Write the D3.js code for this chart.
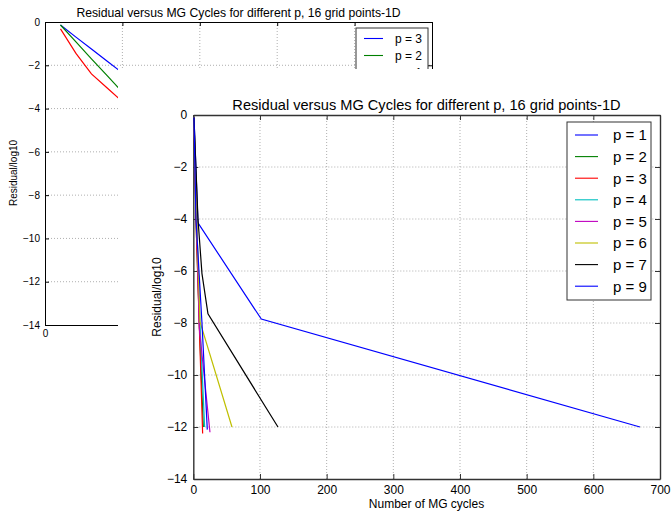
<!DOCTYPE html>
<html>
<head>
<meta charset="utf-8">
<script src="https://cdn.jsdelivr.net/npm/d3@7"></script>
<style>
    body { margin: 0; background: #fff; }
    text { font-family: "Liberation Sans", Arial, sans-serif; fill: #000; }
</style>
</head>
<body>
<script>
// 背后那张小图的数据 (部分被遮住)
const bgCycles = [1, 2, 3, 4, 5];
const bgP3 = [-0.14, -0.70, -1.25, -1.80, -2.35];
const bgP2 = [-0.14, -0.92, -1.70, -2.47, -3.24];
const bgP1 = [-0.32, -1.45, -2.40, -3.04, -3.68];
const bgSeries = [
    { name: 'p = 3', x: bgCycles, y: bgP3, color: '#0000ff' },
    { name: 'p = 2', x: bgCycles, y: bgP2, color: '#008000' },
    { name: 'p = 1', x: bgCycles, y: bgP1, color: '#ff0000' }
];

// 主图数据
const p1Cycles = [1, 7, 102, 670];
const p1Res = [-0.1, -4.15, -7.85, -12.0];
const p2Cycles = [1, 4, 9, 15];
const p2Res = [-0.1, -4.0, -8.0, -12.0];
const p3Cycles = [1, 4, 9, 14];
const p3Res = [-0.1, -4.0, -8.1, -12.25];
const p4Cycles = [1, 5, 10, 17];
const p4Res = [-0.1, -4.0, -8.0, -12.0];
const p5Cycles = [1, 5, 9, 25];
const p5Res = [-0.1, -4.0, -8.2, -12.2];
const p6Cycles = [1, 5, 10, 58];
const p6Res = [-0.1, -4.0, -7.95, -12.0];
const p7Cycles = [1, 7, 13, 22, 127];
const p7Res = [-0.1, -4.0, -6.1, -7.65, -12.0];
const p9Cycles = [1, 4, 13, 21];
const p9Res = [-0.1, -4.0, -8.0, -12.1];

const labels = ['p = 1', 'p = 2', 'p = 3', 'p = 4', 'p = 5', 'p = 6', 'p = 7', 'p = 9'];
const colors = ['#0000ff', '#008000', '#ff0000', '#00bfbf', '#bf00bf', '#bfbf00', '#000000', '#0000ff'];
const mainSeries = [
    [p1Cycles, p1Res], [p2Cycles, p2Res], [p3Cycles, p3Res], [p4Cycles, p4Res],
    [p5Cycles, p5Res], [p6Cycles, p6Res], [p7Cycles, p7Res], [p9Cycles, p9Res]
].map((d, i) => ({ name: labels[i], x: d[0], y: d[1], color: colors[i] }));

const yTicks = [0, -2, -4, -6, -8, -10, -12, -14];
const xTicks = [0, 100, 200, 300, 400, 500, 600, 700];
const bgXTicks = [0, 5, 10, 15, 20, 25];

const width = 672;
const height = 511;

const svg = d3.select('body')
    .append('svg')
    .attr('width', width)
    .attr('height', height);

// 画一个 matplotlib 风格的坐标系
function drawAxes(g, xScale, yScale, xt, opt) {
    const [x0, x1] = xScale.range();
    const [y0, y1] = yScale.range();

    // 网格
    g.append('g').selectAll('line')
        .data(xt.slice(1, -1))
        .enter().append('line')
        .attr('x1', d => xScale(d)).attr('x2', d => xScale(d))
        .attr('y1', y1).attr('y2', y0)
        .attr('stroke', '#9a9a9a').attr('stroke-width', 0.8)
        .attr('stroke-dasharray', '1,2');
    g.append('g').selectAll('line')
        .data(yTicks.slice(1, -1))
        .enter().append('line')
        .attr('x1', x0).attr('x2', x1)
        .attr('y1', d => yScale(d)).attr('y2', d => yScale(d))
        .attr('stroke', '#9a9a9a').attr('stroke-width', 0.8)
        .attr('stroke-dasharray', '1,2');

    const fmt = d3.format('d');
    const axes = [
        [d3.axisBottom(xScale).tickValues(xt).tickFormat(opt.xLabels ? fmt : ''), 'translate(0,' + y0 + ')'],
        [d3.axisTop(xScale).tickValues(xt).tickFormat(''), 'translate(0,' + y1 + ')'],
        [d3.axisLeft(yScale).tickValues(yTicks).tickFormat(fmt), 'translate(' + x0 + ',0)'],
        [d3.axisRight(yScale).tickValues(yTicks).tickFormat(''), 'translate(' + x1 + ',0)']
    ];
    axes.forEach(a => {
        const ax = g.append('g')
            .attr('transform', a[1])
            .call(a[0].tickSizeInner(-opt.tick).tickSizeOuter(0).tickPadding(opt.pad));
        ax.select('.domain').attr('stroke', opt.spine).attr('stroke-width', opt.spineW);
        ax.selectAll('.tick line').attr('stroke', opt.spine).attr('stroke-width', 1);
        ax.selectAll('text')
            .attr('font-size', opt.fs)
            .style('font-family', '"Liberation Sans", Arial, sans-serif')
            .attr('fill', '#000');
    });
}

function drawLines(g, series, xScale, yScale) {
    const line = d3.line()
        .x(d => xScale(d[0]))
        .y(d => yScale(d[1]));
    g.selectAll('path.series')
        .data(series)
        .enter().append('path')
        .attr('class', 'series')
        .attr('d', s => line(s.x.map((v, i) => [v, s.y[i]])))
        .attr('fill', 'none')
        .attr('stroke', s => s.color)
        .attr('stroke-width', 1.2);
}

function drawLegend(g, series, box, fs, step) {
    g.append('rect')
        .attr('x', box.x).attr('y', box.y)
        .attr('width', box.w).attr('height', box.h)
        .attr('fill', '#fff').attr('stroke', '#333').attr('stroke-width', 1);
    const item = g.selectAll('g.item')
        .data(series)
        .enter().append('g')
        .attr('transform', (d, i) => 'translate(' + box.x + ',' + (box.y + box.first + i * step) + ')');
    item.append('line')
        .attr('x1', box.lx1).attr('x2', box.lx2)
        .attr('stroke', d => d.color).attr('stroke-width', 1.1);
    item.append('text')
        .attr('x', box.tx).attr('y', fs * 0.36)
        .attr('font-size', fs)
        .text(d => d.name);
}

// ---------- 背后的小图 ----------
const bgX = d3.scaleLinear().domain([0, 25]).range([45, 432]);
const bgY = d3.scaleLinear().domain([-14, 0]).range([325, 22]);
const bg = svg.append('g');
drawAxes(bg, bgX, bgY, bgXTicks, { tick: 4, pad: 5, fs: 10, spine: '#000', spineW: 1, xLabels: true });
// 只显示 x=0 的刻度标签
bg.selectAll('.tick text').filter(function (d) {
    return this.parentNode.parentNode.getAttribute('transform').startsWith('translate(0,') && d !== 0;
}).remove();
drawLines(bg, bgSeries, bgX, bgY);
drawLegend(bg, bgSeries, { x: 356, y: 28, w: 72, h: 60, first: 10.5, lx1: 8, lx2: 27, tx: 39 }, 12, 17);
bg.append('text')
    .attr('x', 238.5).attr('y', 17)
    .attr('text-anchor', 'middle')
    .attr('font-size', 12.2)
    .text('Residual versus MG Cycles for different p, 16 grid points-1D');
bg.append('text')
    .attr('transform', 'translate(17,173) rotate(-90)')
    .attr('text-anchor', 'middle')
    .attr('font-size', 10)
    .text('Residual/log10');

// 前面的大图盖住一部分
svg.append('rect')
    .attr('x', 118).attr('y', 69)
    .attr('width', width - 118).attr('height', height - 69)
    .attr('fill', '#fff');

// ---------- 主图 ----------
const xScale = d3.scaleLinear().domain([0, 700]).range([193.3, 660]);
const yScale = d3.scaleLinear().domain([-14, 0]).range([479, 115]);
const main = svg.append('g');
drawAxes(main, xScale, yScale, xTicks, { tick: 5, pad: 6, fs: 12, spine: '#333', spineW: 1.4, xLabels: true });
drawLines(main, mainSeries, xScale, yScale);
drawLegend(main, mainSeries, { x: 567, y: 122, w: 84, h: 178, first: 13, lx1: 8, lx2: 31, tx: 46 }, 15, 21.6);

main.append('text')
    .attr('x', 426.5).attr('y', 110)
    .attr('text-anchor', 'middle')
    .attr('font-size', 14.6)
    .text('Residual versus MG Cycles for different p, 16 grid points-1D');
main.append('text')
    .attr('x', 426.5).attr('y', 508)
    .attr('text-anchor', 'middle')
    .attr('font-size', 12)
    .text('Number of MG cycles');
main.append('text')
    .attr('transform', 'translate(161,297) rotate(-90)')
    .attr('text-anchor', 'middle')
    .attr('font-size', 12)
    .text('Residual/log10');
</script>
</body>
</html>
